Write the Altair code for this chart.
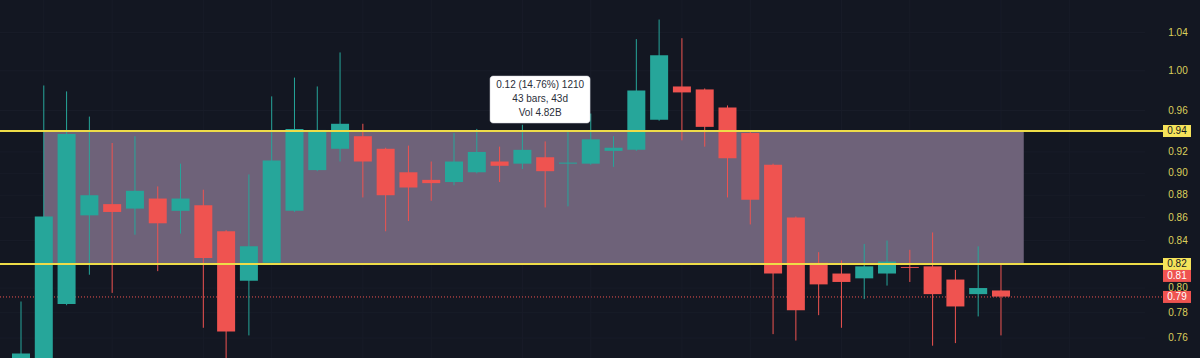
import altair as alt
import pandas as pd

# ---- data (daily candles) ----
opens  = [0.720, 0.742, 0.787, 0.862, 0.872, 0.868, 0.877, 0.866, 0.871, 0.848,
          0.806, 0.821, 0.866, 0.903, 0.923, 0.935, 0.923, 0.901, 0.894, 0.892,
          0.901, 0.911, 0.909, 0.915, 0.909, 0.909, 0.921, 0.922, 0.951, 0.984,
          0.981, 0.963, 0.938, 0.908, 0.860, 0.821, 0.812, 0.808, 0.812, 0.8175,
          0.818, 0.807, 0.795, 0.798]
highs  = [0.789, 0.985, 0.979, 0.954, 0.9285, 0.935, 0.888, 0.909, 0.885, 0.849,
          0.899, 0.974, 0.993, 0.984, 1.019, 0.947, 0.924, 0.926, 0.911, 0.938,
          0.942, 0.925, 0.946, 0.930, 0.941, 0.957, 0.935, 1.033, 1.054, 1.034,
          0.982, 0.965, 0.939, 0.909, 0.861, 0.830, 0.823, 0.837, 0.840, 0.832,
          0.847, 0.815, 0.835, 0.820]
lows   = [0.710, 0.735, 0.786, 0.811, 0.796, 0.845, 0.814, 0.846, 0.768, 0.735,
          0.762, 0.820, 0.865, 0.902, 0.911, 0.878, 0.848, 0.857, 0.875, 0.889,
          0.900, 0.892, 0.904, 0.869, 0.870, 0.908, 0.906, 0.921, 0.950, 0.931,
          0.925, 0.878, 0.854, 0.763, 0.758, 0.778, 0.768, 0.791, 0.802, 0.805,
          0.754, 0.756, 0.777, 0.762]
closes = [0.748, 0.861, 0.937, 0.880, 0.865, 0.884, 0.855, 0.877, 0.825, 0.765,
          0.835, 0.912, 0.942, 0.941, 0.947, 0.911, 0.880, 0.887, 0.891, 0.911,
          0.920, 0.907, 0.922, 0.902, 0.910, 0.932, 0.924, 0.980, 1.016, 0.978,
          0.944, 0.914, 0.876, 0.812, 0.782, 0.803, 0.805, 0.818, 0.822, 0.8167,
          0.795, 0.785, 0.800, 0.793]

tick_values = [1.04, 1.00, 0.96, 0.94, 0.92, 0.90, 0.88, 0.86, 0.84, 0.82, 0.80, 0.78, 0.76]
grid_bars = [1, 4, 8, 11, 15, 18, 22, 25, 29, 32, 36, 39, 43, 46]

range_top, range_bottom = 0.94, 0.82
range_start, range_end = 1, 44
last_price = 0.7927

price_tags = pd.DataFrame({
    "v": [0.94, 0.82, 0.81, 0.7927],
    "label": ["0.94", "0.82", "0.81", "0.79"],
    "bg": ["#f5e35a", "#f5e35a", "#ef5350", "#ef5350"],
    "fg": ["#131722", "#131722", "#ffffff", "#ffffff"],
})

measure_lines = ["0.12 (14.76%) 1210", "43 bars, 43d", "Vol 4.82B"]
measure_y = [0.9855, 0.9714, 0.9575]

# ---- tables ----
candles = pd.DataFrame({"i": list(range(len(opens))), "open": opens, "high": highs,
                        "low": lows, "close": closes})
candles["dir"] = ["up" if c >= o else "down" for o, c in zip(opens, closes)]

W, H = 1200, 358
xs = alt.Scale(domain=[-0.9215, 51.733], nice=False, zero=False)
ys = alt.Scale(type="log", domain=[0.74453, 1.07537], nice=False, zero=False)
col = alt.Color("dir:N", scale=alt.Scale(domain=["up", "down"], range=["#26a69a", "#ef5350"]), legend=None)

base = alt.Chart(candles)

vgrid = alt.Chart(pd.DataFrame({"g": grid_bars})).mark_rule(color="#181c28", strokeWidth=1).encode(
    x=alt.X("g:Q", scale=xs, axis=None), y=alt.value(0), y2=alt.value(H))
hgrid = alt.Chart(pd.DataFrame({"v": tick_values})).mark_rule(color="#181c28", strokeWidth=1).encode(
    y=alt.Y("v:Q", scale=ys, axis=None), x=alt.value(0), x2=alt.value(1145))

zone = alt.Chart(pd.DataFrame({"x1": [range_start], "x2": [range_end],
                               "y1": [range_top], "y2": [range_bottom]})).mark_rect(
    color="#6e6279", opacity=1).encode(
    x=alt.X("x1:Q", scale=xs, axis=None), x2="x2:Q",
    y=alt.Y("y1:Q", scale=ys, axis=None), y2="y2:Q")

wicks = base.mark_rule(strokeWidth=1, clip=True).encode(
    x=alt.X("i:Q", scale=xs, axis=None),
    y=alt.Y("low:Q", scale=ys, axis=None), y2="high:Q", color=col)

bodies = base.transform_calculate(
    xa="datum.i - 0.395", xb="datum.i + 0.395").mark_rect(clip=True).encode(
    x=alt.X("xa:Q", scale=xs, axis=None), x2="xb:Q",
    y=alt.Y("open:Q", scale=ys, axis=None), y2="close:Q", color=col)

levels = alt.Chart(pd.DataFrame({"v": [range_top, range_bottom]})).mark_rule(
    color="#eedc48", strokeWidth=2).encode(
    y=alt.Y("v:Q", scale=ys, axis=None), x=alt.value(0), x2=alt.value(1163))

last_line = alt.Chart(pd.DataFrame({"v": [last_price]})).mark_rule(
    color="#ef5350", strokeWidth=1, strokeDash=[1, 2]).encode(
    y=alt.Y("v:Q", scale=ys, axis=None), x=alt.value(0), x2=alt.value(1163))

# measure tooltip box anchored to bar 22
mbox = alt.Chart(pd.DataFrame({"x1": [20.58], "x2": [24.97], "y1": [0.9477], "y2": [0.9946]})).mark_rect(
    color="#ffffff", cornerRadius=3, stroke="#d0d3da", strokeWidth=0.5).encode(
    x=alt.X("x1:Q", scale=xs, axis=None), x2="x2:Q",
    y=alt.Y("y1:Q", scale=ys, axis=None), y2="y2:Q")
mtext = alt.Chart(pd.DataFrame({"t": measure_lines, "y": measure_y, "x": [22.78] * 3})).mark_text(
    font="Liberation Sans", fontSize=10, color="#2a2e39", align="center", baseline="middle").encode(
    x=alt.X("x:Q", scale=xs, axis=None), y=alt.Y("y:Q", scale=ys, axis=None), text="t:N")

# right price axis labels
axis_df = pd.DataFrame({"v": tick_values, "label": [f"{v:.2f}" for v in tick_values]})
axis_text = alt.Chart(axis_df).mark_text(
    font="Liberation Sans", fontSize=10, color="#dcd05c", align="center", baseline="middle").encode(
    y=alt.Y("v:Q", scale=ys, axis=None), x=alt.value(1178), text="label:N")

tag_bg = alt.Chart(price_tags).mark_tick(orient="horizontal", size=28, thickness=12, opacity=1).encode(
    y=alt.Y("v:Q", scale=ys, axis=None), x=alt.value(1177),
    color=alt.Color("bg:N", scale=None))
tag_text = alt.Chart(price_tags).mark_text(
    font="Liberation Sans", fontSize=10, align="center", baseline="middle").encode(
    y=alt.Y("v:Q", scale=ys, axis=None), x=alt.value(1177), text="label:N",
    color=alt.Color("fg:N", scale=None))

chart = alt.layer(vgrid, hgrid, zone, last_line, wicks, bodies, levels, mbox, mtext,
                  axis_text, tag_bg, tag_text).properties(
    width=W, height=H, background="#131722", padding=0,
    autosize=alt.AutoSizeParams(type="none")
).configure_view(stroke=None)

chart.save("out.html", embed_options={"renderer": "svg", "actions": False})
